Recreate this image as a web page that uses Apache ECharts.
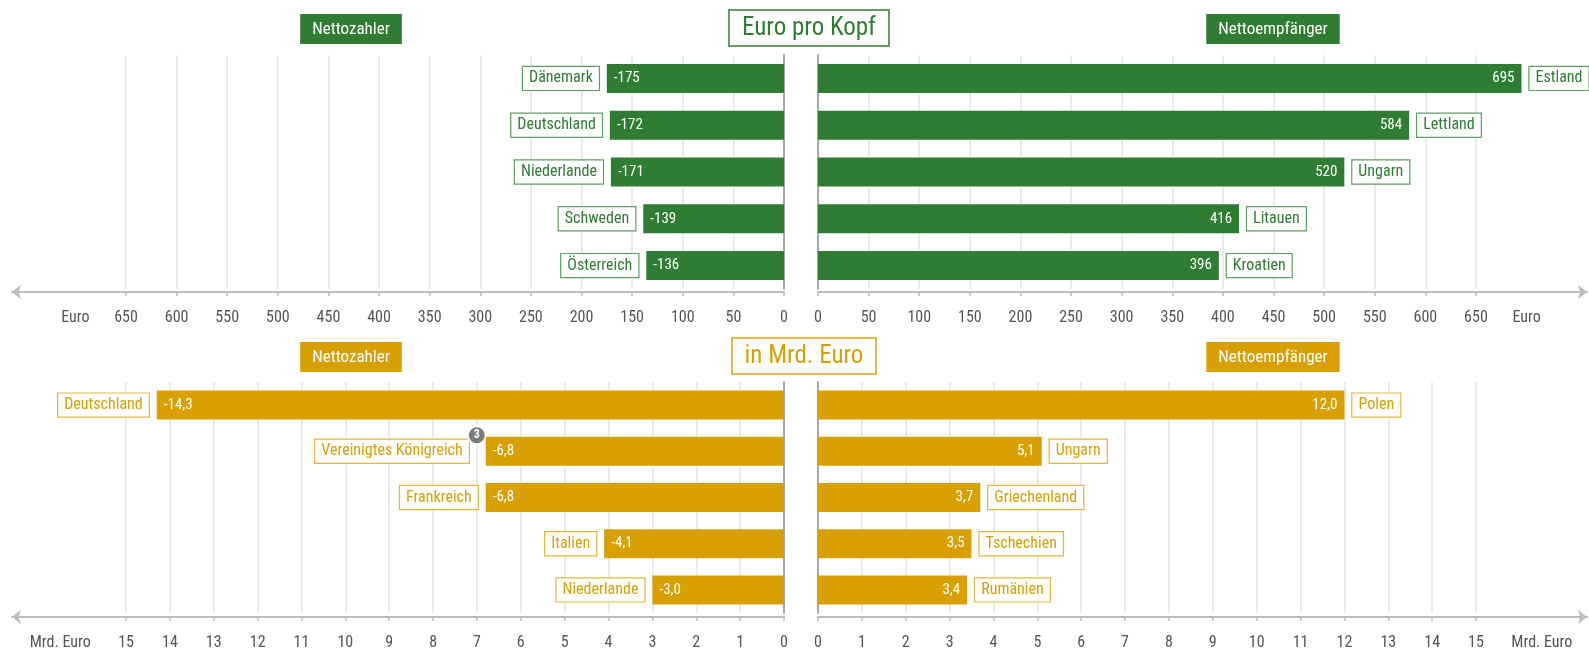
<!DOCTYPE html>
<html><head><meta charset="utf-8">
<script src="https://cdn.jsdelivr.net/npm/echarts@6/dist/echarts.min.js"></script>
<style>html,body{margin:0;padding:0;background:#fff}#c{width:1589px;height:651px}</style>
</head><body><div id="c"></div>
<script>
// ---- data ----
const payersPerCapita = ['Dänemark','Deutschland','Niederlande','Schweden','Österreich'];
const payersPerCapitaValues = [-175,-172,-171,-139,-136];
const receiversPerCapita = ['Estland','Lettland','Ungarn','Litauen','Kroatien'];
const receiversPerCapitaValues = [695,584,520,416,396];
const payersTotal = ['Deutschland','Vereinigtes Königreich','Frankreich','Italien','Niederlande'];
const payersTotalValues = [-14.3,-6.8,-6.8,-4.1,-3.0];
const receiversTotal = ['Polen','Ungarn','Griechenland','Tschechien','Rumänien'];
const receiversTotalValues = [12.0,5.1,3.7,3.5,3.4];
const perCapitaTicks = [0,50,100,150,200,250,300,350,400,450,500,550,600,650];
const totalTicks = [0,1,2,3,4,5,6,7,8,9,10,11,12,13,14,15];
const footnoteCountry = 'Vereinigtes Königreich';
const footnoteMark = '3';

// ---- styles ----
const GREEN = '#2e7d32', GREEN_B = '#5e9f62';
const GOLD = '#d9a004', GOLD_B = '#e2b73e';
const FONT = "'Roboto Condensed','Liberation Sans Narrow','DejaVu Sans Condensed',Roboto,sans-serif";
const GRIDC = '#e4e4e4', AXC = '#bdbdbd';

const grids = [
  {left: 12, width: 772, top: 55, height: 234},
  {left: 818, width: 769, top: 55, height: 234},
  {left: 12, width: 772, top: 382, height: 234},
  {left: 818, width: 769, top: 382, height: 234}
];

function splitColors(n){ const a=[]; for(let i=0;i<n;i++) a.push(GRIDC); for(let i=0;i<6;i++) a.push('rgba(0,0,0,0)'); return a; }

function xAxis(gi, inverse, max, interval, ticks, unitPos, unitText, off){
  return {
    gridIndex: gi, type: 'value', inverse, min: 0, max, interval, offset: off,
    axisLine: {show: true, symbol: inverse ? ['arrow','none'] : ['none','arrow'], symbolSize: [11, 9],
               lineStyle: {color: AXC, width: 2}},
    axisTick: {show: true, customValues: ticks, length: 4, lineStyle: {color: AXC, width: 1.5}},
    axisLabel: {customValues: ticks.concat([unitPos]), margin: 18, color: '#555', fontSize: 16, fontFamily: FONT,
                formatter: v => v > ticks[ticks.length-1] ? unitText : String(v)},
    splitLine: {show: true, lineStyle: {color: splitColors(ticks.length), width: 1.5}}
  };
}
function yAxis(gi, cats, right){
  return {gridIndex: gi, type: 'category', data: cats, inverse: true, position: right ? 'right' : 'left',
          axisLine: {show: true, lineStyle: {color: '#a8a8a8', width: 2}}, axisTick: {show: false}, axisLabel: {show: false}, splitLine: {show: false}};
}

function fmtInt(v){ return String(v); }
function fmtDec(v){ return v.toFixed(1).replace('.', ','); }

function sideSeries(gi, names, values, left, color, border, fmt){
  const abs = values.map(v => Math.abs(v));
  const out = [];
  out.push({
    type: 'bar', xAxisIndex: gi, yAxisIndex: gi, data: abs, barWidth: 29, barGap: '-100%',
    itemStyle: {color}, silent: true,
    label: {show: true, position: left ? 'insideLeft' : 'insideRight', distance: 7, color: '#fff', fontSize: 15, fontFamily: FONT,
            formatter: p => fmt(values[p.dataIndex])}
  });
  out.push({
    type: 'bar', xAxisIndex: gi, yAxisIndex: gi, barWidth: 29, barGap: '-100%', silent: true,
    data: abs.map((v, i) => names[i] === footnoteCountry && left && fmt === fmtDec ? {value: v, label: {distance: 17}} : v),
    itemStyle: {color: 'rgba(0,0,0,0)'},
    label: {show: true, position: left ? 'left' : 'right', distance: 8, color, fontSize: 16, fontFamily: FONT,
            backgroundColor: '#fff', borderColor: border, borderWidth: 1.2, padding: [4, 6, 3, 6],
            formatter: p => names[p.dataIndex]}
  });
  return out;
}

const series = [].concat(
  sideSeries(0, payersPerCapita, payersPerCapitaValues, true, GREEN, GREEN_B, fmtInt),
  sideSeries(1, receiversPerCapita, receiversPerCapitaValues, false, GREEN, GREEN_B, fmtInt),
  sideSeries(2, payersTotal, payersTotalValues, true, GOLD, GOLD_B, fmtDec),
  sideSeries(3, receiversTotal, receiversTotalValues, false, GOLD, GOLD_B, fmtDec)
);
// footnote badge
series.push({
  type: 'bar', xAxisIndex: 2, yAxisIndex: 2, barWidth: 29, barGap: '-100%', silent: true, z: 5,
  data: payersTotal.map((n, i) => n === footnoteCountry ? Math.abs(payersTotalValues[i]) : '-'),
  itemStyle: {color: 'rgba(0,0,0,0)'},
  label: {show: true, position: 'left', distance: 9, offset: [0, -16], formatter: footnoteMark,
          width: 16, height: 16, lineHeight: 16, align: 'center', verticalAlign: 'middle',
          backgroundColor: '#7b7b7b', borderRadius: 9, borderColor: '#fff', borderWidth: 1.5,
          color: '#fff', fontSize: 12, fontWeight: 'bold', fontFamily: FONT}
});

function header(text, x, y, bg){
  return {text, left: x, top: y, textAlign: 'center', backgroundColor: bg, padding: [7, 12, 6, 12],
          textStyle: {color: '#fff', fontSize: 17, fontWeight: 'normal', fontFamily: FONT}};
}
function boxTitle(text, x, y, c){
  return {text, left: x, top: y, textAlign: 'center', backgroundColor: '#fff', borderColor: c, borderWidth: 1.5,
          padding: [6, 13, 5, 13], textStyle: {color: c, fontSize: 25, fontWeight: 'normal', fontFamily: FONT}};
}

const option = {
  animation: false,
  backgroundColor: '#fff',
  title: [
    header('Nettozahler', 339, 14, GREEN),
    boxTitle('Euro pro Kopf', 796, 10, GREEN),
    header('Nettoempfänger', 1261, 14, GREEN),
    header('Nettozahler', 339, 342, GOLD),
    boxTitle('in Mrd. Euro', 791, 338, GOLD),
    header('Nettoempfänger', 1261, 342, GOLD)
  ],
  grid: grids,
  xAxis: [
    xAxis(0, true, 762.6, 50, perCapitaTicks, 700, 'Euro', 3),
    xAxis(1, false, 759.7, 50, perCapitaTicks, 700, 'Euro', 3),
    xAxis(2, true, 17.6, 1, totalTicks, 16.5, 'Mrd. Euro', 4),
    xAxis(3, false, 17.53, 1, totalTicks, 16.5, 'Mrd. Euro', 4)
  ],
  yAxis: [
    yAxis(0, payersPerCapita, true),
    yAxis(1, receiversPerCapita, false),
    yAxis(2, payersTotal, true),
    yAxis(3, receiversTotal, false)
  ],
  series
};
const chart = echarts.init(document.getElementById('c'), null, {renderer: 'canvas'});
chart.setOption(option);
</script></body></html>
